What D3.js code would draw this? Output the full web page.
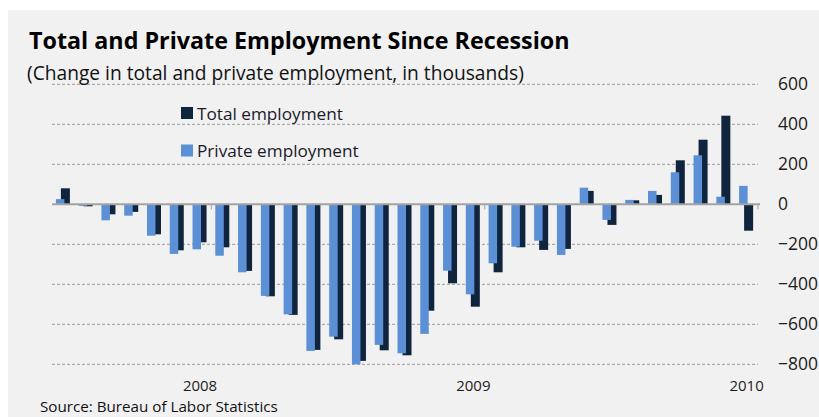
<!DOCTYPE html>
<html>
<head>
<meta charset="utf-8">
<script src="https://cdn.jsdelivr.net/npm/d3@7"></script>
<style>
  html, body { margin: 0; padding: 0; background: #ffffff; }
  svg { display: block; }
  text { font-family: "Open Sans", "Noto Sans", sans-serif; }
</style>
</head>
<body>
<svg id="chart" width="819" height="417"></svg>
<script>
// ---- Data (thousands of jobs, monthly change) ----
const months = [
  "Jul 2007","Aug 2007","Sep 2007","Oct 2007","Nov 2007","Dec 2007",
  "Jan 2008","Feb 2008","Mar 2008","Apr 2008","May 2008","Jun 2008",
  "Jul 2008","Aug 2008","Sep 2008","Oct 2008","Nov 2008","Dec 2008",
  "Jan 2009","Feb 2009","Mar 2009","Apr 2009","May 2009","Jun 2009",
  "Jul 2009","Aug 2009","Sep 2009","Oct 2009","Nov 2009","Dec 2009",
  "Jan 2010"
];
const totalEmployment = [
  80, -10, -50, -38, -150, -230,
  -190, -215, -333, -460, -553, -728,
  -675, -783, -730, -755, -532, -395,
  -512, -340, -215, -228, -223, 67,
  -103, 20, 47, 220, 323, 443,
  -132
];
const privateEmployment = [
  26, -8, -80, -57, -157, -248,
  -225, -257, -340, -458, -550, -733,
  -662, -800, -703, -745, -648, -332,
  -450, -295, -212, -182, -253, 83,
  -78, 22, 67, 160, 245, 38,
  92
];
const yTicks = [600, 400, 200, 0, -200, -400, -600, -800];
const yearLabels = [
  { month: "Jan 2008", label: "2008" },
  { month: "Jan 2009", label: "2009" },
  { month: "Jan 2010", label: "2010" }
];
const seriesNames = ["Total employment", "Private employment"];
const colors = { total: "#10243e", private: "#5b8fd6" };

// ---- Layout ----
const svg = d3.select("#chart");
const W = 819, H = 417;
const plot = { left: 52, right: 758, top: 84.3, bottom: 364.3 };

svg.append("rect").attr("x", 8).attr("y", 10).attr("width", W - 8).attr("height", H - 10)
  .attr("fill", "#f1f1f1");

const x = d3.scaleBand().domain(months).range([plot.left, plot.right]).padding(0);
const y = d3.scaleLinear().domain([-800, 600]).range([plot.bottom, plot.top]);

// Gridlines
svg.append("g").selectAll("line")
  .data(yTicks.filter(d => d !== 0))
  .join("line")
  .attr("x1", plot.left).attr("x2", plot.right)
  .attr("y1", d => y(d)).attr("y2", d => y(d))
  .attr("stroke", "#9a9a9a").attr("stroke-width", 1)
  .attr("stroke-dasharray", "3,2");

// Y axis labels on right
const yAxis = d3.axisRight(y).tickValues(yTicks).tickSize(0).tickPadding(0)
  .tickFormat(d3.format("d"));
const gy = svg.append("g").attr("transform", `translate(778,0)`).call(yAxis);
gy.select(".domain").remove();
gy.selectAll("text").attr("font-size", 17.5).attr("fill", "#1c1c1c")
  .attr("font-family", "'Open Sans', sans-serif");

// Bars
const bw = x.bandwidth();
const gBars = svg.append("g");
gBars.selectAll("rect.total")
  .data(months.map((m, i) => ({ m, v: totalEmployment[i] })))
  .join("rect").attr("class", "total")
  .attr("x", d => x(d.m) + bw / 2 - 2.5)
  .attr("width", 9)
  .attr("y", d => Math.min(y(d.v), y(0)))
  .attr("height", d => Math.abs(y(d.v) - y(0)))
  .attr("fill", colors.total);
gBars.selectAll("rect.private")
  .data(months.map((m, i) => ({ m, v: privateEmployment[i] })))
  .join("rect").attr("class", "private")
  .attr("x", d => x(d.m) + bw / 2 - 7.5)
  .attr("width", 8.5)
  .attr("y", d => Math.min(y(d.v), y(0)))
  .attr("height", d => Math.abs(y(d.v) - y(0)))
  .attr("fill", colors.private);

// Zero axis line with year tick marks
const xAxis = d3.axisBottom(x)
  .tickValues(yearLabels.map(d => d.month))
  .tickSize(5).tickFormat("");
const gx = svg.append("g").attr("transform", `translate(0,${y(0)})`).call(xAxis);
gx.select(".domain").attr("stroke", "#a3a3a3").attr("stroke-width", 2)
  .attr("d", `M${plot.left},0H${plot.right + 2}`);
gx.selectAll(".tick").attr("transform", d => `translate(${x(d) + bw},0)`);
gx.selectAll(".tick line").attr("stroke", "#b0b0b0").attr("stroke-width", 1.2);

// Year labels at bottom
svg.append("g").selectAll("text")
  .data(yearLabels)
  .join("text")
  .attr("x", d => x(d.month) + bw / 2)
  .attr("y", 390.5)
  .attr("text-anchor", "middle")
  .attr("font-size", 15)
  .attr("fill", "#1c1c1c")
  .text(d => d.label);

// Title & subtitle
svg.append("text").attr("x", 29).attr("y", 49)
  .attr("font-size", 23.3).attr("font-weight", "bold").attr("fill", "#000")
  .text("Total and Private Employment Since Recession");
svg.append("text").attr("x", 27).attr("y", 80)
  .attr("font-size", 19.2).attr("fill", "#111")
  .text("(Change in total and private employment, in thousands)");

// Legend
const legend = svg.append("g");
const legendItems = [
  { name: seriesNames[0], color: colors.total, y: 107 },
  { name: seriesNames[1], color: colors.private, y: 144.5 }
];
legend.selectAll("rect").data(legendItems).join("rect")
  .attr("x", 181).attr("y", d => d.y).attr("width", 12).attr("height", 12)
  .attr("fill", d => d.color);
legend.selectAll("text").data(legendItems).join("text")
  .attr("x", 197).attr("y", d => d.y + 12.5)
  .attr("font-size", 17.2).attr("fill", "#1a1a2a")
  .text(d => d.name);

// Source
svg.append("text").attr("x", 40).attr("y", 412)
  .attr("font-size", 15.2).attr("fill", "#111")
  .text("Source: Bureau of Labor Statistics");
</script>
</body>
</html>
